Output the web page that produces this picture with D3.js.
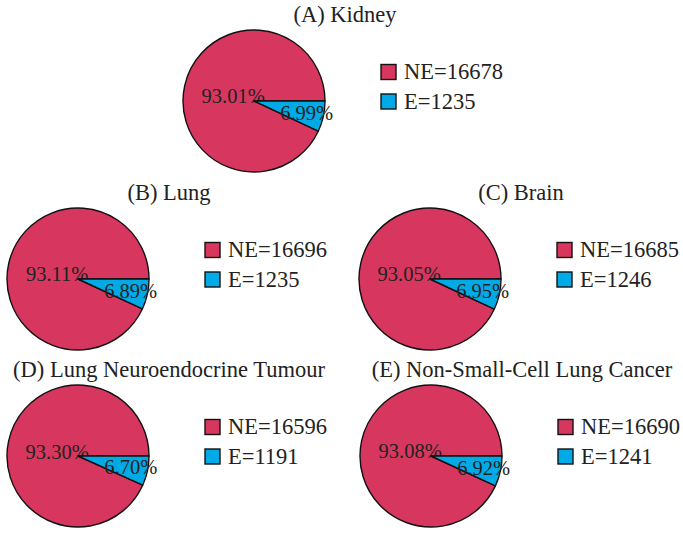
<!DOCTYPE html>
<head>
<meta charset="utf-8">
<title>Pie charts</title>
<script src="https://d3js.org/d3.v7.min.js"></script>
<style>
  body { margin: 0; background: #fff; }
  text { font-family: "Liberation Serif", "Times New Roman", serif; fill: #222; }
</style>
</head>
<body>
<script>
//----------------------------DATA------------------------------//
const titles = ["(A) Kidney", "(B) Lung", "(C) Brain",
                "(D) Lung Neuroendocrine Tumour", "(E) Non-Small-Cell Lung Cancer"];
const categories = ["NE", "E"];
const neCounts = [16678, 16696, 16685, 16596, 16690];
const eCounts  = [1235, 1235, 1246, 1191, 1241];
const nePct = [93.01, 93.11, 93.05, 93.30, 93.08];
const ePct  = [6.99, 6.89, 6.95, 6.70, 6.92];

//---------------------------LAYOUT-----------------------------//
const width = 683, height = 534;
const r = 71;
// pie centres of the five panels
const centres = [[254, 101], [78, 279], [430, 279], [78, 456], [431, 456]];
const colors = d3.scaleOrdinal().domain(categories).range(["#d7375f", "#00aae6"]);
const pctDist = {NE: 0.3, E: 0.76};

const svg = d3.select("body").append("svg")
    .attr("width", width)
    .attr("height", height);

const pie = d3.pie()
    .sort(null)
    .value(d => d.pct)
    .startAngle(Math.PI / 2)
    .endAngle(Math.PI / 2 - 2 * Math.PI);

const arc = d3.arc().innerRadius(0).outerRadius(r);

titles.forEach(function(title, i) {
  const data = [
    {id: "NE", pct: nePct[i], count: neCounts[i]},
    {id: "E",  pct: ePct[i],  count: eCounts[i]}
  ];
  const g = svg.append("g")
      .attr("transform", "translate(" + centres[i][0] + "," + centres[i][1] + ")");

  g.append("text")
      .attr("x", 91)
      .attr("y", -79)
      .attr("text-anchor", "middle")
      .style("font-size", "22.5px")
      .text(title);

  const slices = g.selectAll(".slice")
      .data(pie(data))
      .enter().append("g");

  slices.append("path")
      .attr("d", arc)
      .attr("fill", d => colors(d.data.id))
      .attr("stroke", "#111")
      .attr("stroke-width", 1.4)
      .attr("stroke-linejoin", "round");

  slices.append("text")
      .attr("transform", function(d) {
        const lr = pctDist[d.data.id] * r;
        const c = d3.arc().innerRadius(lr).outerRadius(lr).centroid(d);
        return "translate(" + c[0] + "," + c[1] + ")";
      })
      .attr("text-anchor", "middle")
      .attr("dominant-baseline", "central")
      .style("font-size", "20.5px")
      .text(d => d.data.pct.toFixed(2) + "%");

  // legend
  const leg = g.selectAll(".leg")
      .data(data)
      .enter().append("g")
      .attr("transform", (d, j) => "translate(127," + (-29 + j * 29.5) + ")");

  leg.append("rect")
      .attr("x", 0)
      .attr("y", -7.5)
      .attr("width", 15)
      .attr("height", 15)
      .attr("fill", d => colors(d.id))
      .attr("stroke", "#111")
      .attr("stroke-width", 1.4);

  leg.append("text")
      .attr("x", 23)
      .attr("y", 7)
      .style("font-size", "22.5px")
      .text(d => d.id + "=" + d.count);
});
</script>
</body>
